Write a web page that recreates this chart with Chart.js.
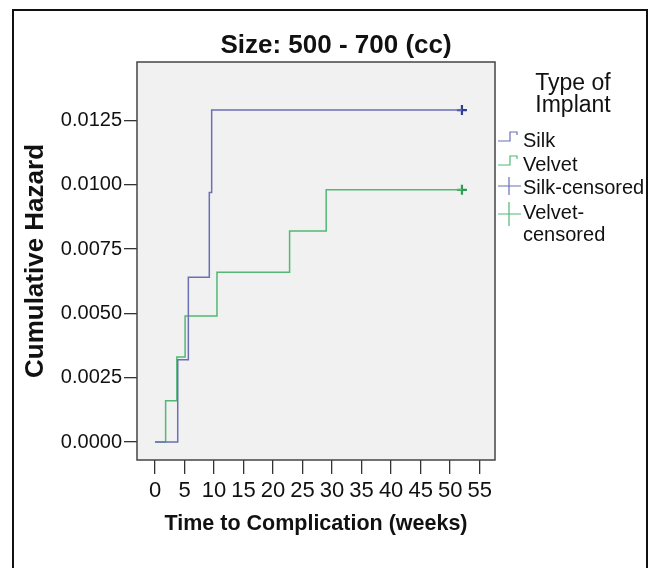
<!DOCTYPE html>
<html>
<head>
<meta charset="utf-8">
<script src="https://cdn.jsdelivr.net/npm/chart.js@4/dist/chart.umd.min.js"></script>
<style>
  html, body { margin: 0; padding: 0; background: #fff; }
  #wrap { width: 657px; height: 568px; position: relative; }
</style>
</head>
<body>
<div id="wrap"><canvas id="hazardChart"></canvas></div>
<script>
// step data (weeks, cumulative hazard)
var silkWeeks   = [0, 3.85, 5.65, 9.2, 9.6, 52];
var silkHazard  = [0, 0.0032, 0.0064, 0.0097, 0.0129, 0.0129];
var velvetWeeks  = [0, 1.8, 3.7, 5.1, 10.5, 22.8, 29, 52];
var velvetHazard = [0, 0.0016, 0.0033, 0.0049, 0.0066, 0.0082, 0.0098, 0.0098];
var silkCensoredWeeks = [52];
var silkCensoredHazard = [0.0129];
var velvetCensoredWeeks = [52];
var velvetCensoredHazard = [0.0098];

var xTicks = [0, 5, 10, 15, 20, 25, 30, 35, 40, 45, 50, 55];
var yTicks = [0, 0.0025, 0.005, 0.0075, 0.01, 0.0125];
var legendTitle = ['Type of', 'Implant'];
var legendLabels = ['Silk', 'Velvet', 'Silk-censored', ['Velvet-', 'censored']];

var SILK = '#6a6fb6';
var VELVET = '#52b874';
var SILK_DARK = '#2f3d8f';
var VELVET_DARK = '#2f9a52';
var FONT = "'Liberation Sans', Arial, sans-serif";

function toPoints(xs, ys) {
  return xs.map(function(x, i) { return { x: x, y: ys[i] }; });
}

// grey plot background, plot border and the outer frame
var framePlugin = {
  id: 'frame',
  beforeDraw: function(chart) {
    var ctx = chart.ctx, a = chart.chartArea;
    ctx.save();
    ctx.fillStyle = '#f1f1f1';
    ctx.fillRect(a.left, a.top, a.right - a.left, a.bottom - a.top);
    ctx.restore();
  },
  afterDraw: function(chart) {
    var ctx = chart.ctx, a = chart.chartArea;
    ctx.save();
    ctx.strokeStyle = '#444';
    ctx.lineWidth = 1.5;
    ctx.strokeRect(a.left, a.top, a.right - a.left, a.bottom - a.top);
    ctx.strokeStyle = '#111';
    ctx.lineWidth = 2;
    ctx.strokeRect(13, 10, 634, 600);

    // main title
    ctx.fillStyle = '#111';
    ctx.font = 'bold 26px ' + FONT;
    ctx.textAlign = 'center';
    ctx.textBaseline = 'middle';
    ctx.fillText('Size: 500 - 700 (cc)', 336, 46);

    // legend
    ctx.font = '23px ' + FONT;
    ctx.fillText(legendTitle[0], 573, 84);
    ctx.fillText(legendTitle[1], 573, 106);

    ctx.font = '20px ' + FONT;
    ctx.textAlign = 'left';
    var rows = [141, 165, 188, 213];
    var colors = [SILK, VELVET, SILK, VELVET];
    legendLabels.forEach(function(lab, i) {
      var y = rows[i];
      ctx.strokeStyle = colors[i];
      ctx.lineWidth = 1.2;
      ctx.beginPath();
      if (i < 2) {
        ctx.moveTo(498, y);
        ctx.lineTo(510, y);
        ctx.lineTo(510, y - 9);
        ctx.lineTo(517, y - 9);
        ctx.lineTo(517, y - 6);
      } else {
        var cy = i === 2 ? y - 2 : y + 1;
        var half = i === 2 ? 9 : 12;
        ctx.moveTo(498, cy);
        ctx.lineTo(521, cy);
        ctx.moveTo(509, cy - half);
        ctx.lineTo(509, cy + half);
      }
      ctx.stroke();
      ctx.fillStyle = '#111';
      if (Array.isArray(lab)) {
        ctx.fillText(lab[0], 523, y);
        ctx.fillText(lab[1], 523, y + 22);
      } else {
        ctx.fillText(lab, 523, y);
      }
    });
    ctx.restore();
  }
};

var ctx = document.getElementById('hazardChart').getContext('2d');
var hazardChart = new Chart(ctx, {
  type: 'scatter',
  data: {
    datasets: [
      {
        label: 'Silk',
        data: toPoints(silkWeeks, silkHazard),
        showLine: true,
        stepped: 'before',
        borderColor: SILK,
        borderWidth: 1.5,
        pointRadius: 0
      },
      {
        label: 'Velvet',
        data: toPoints(velvetWeeks, velvetHazard),
        showLine: true,
        stepped: 'before',
        borderColor: VELVET,
        borderWidth: 1.5,
        pointRadius: 0
      },
      {
        label: 'Silk-censored',
        data: toPoints(silkCensoredWeeks, silkCensoredHazard),
        pointStyle: 'cross',
        pointRadius: 5,
        borderWidth: 2.2,
        borderColor: SILK_DARK
      },
      {
        label: 'Velvet-censored',
        data: toPoints(velvetCensoredWeeks, velvetCensoredHazard),
        pointStyle: 'cross',
        pointRadius: 5,
        borderWidth: 2.2,
        borderColor: VELVET_DARK
      }
    ]
  },
  options: {
    responsive: true,
    maintainAspectRatio: false,
    animation: false,
    layout: {
      padding: { top: 62, right: 162, left: 0, bottom: 0 }
    },
    scales: {
      x: {
        type: 'linear',
        min: -3.05,
        max: 57.6,
        afterBuildTicks: function(scale) {
          scale.ticks = xTicks.map(function(v) { return { value: v }; });
        },
        afterFit: function(scale) { scale.height = 108; },
        border: { display: false },
        grid: {
          drawOnChartArea: false,
          tickLength: 14,
          color: '#333',
          lineWidth: 1.3
        },
        ticks: {
          color: '#111',
          padding: 4,
          maxRotation: 0,
          autoSkip: false,
          font: { family: FONT, size: 22 }
        },
        title: {
          display: true,
          text: 'Time to Complication (weeks)',
          color: '#111',
          font: { family: FONT, size: 21.5, weight: 'bold' },
          padding: { top: 0, bottom: 31 }
        }
      },
      y: {
        min: -0.0007,
        max: 0.01477,
        afterBuildTicks: function(scale) {
          scale.ticks = yTicks.map(function(v) { return { value: v }; });
        },
        afterFit: function(scale) { scale.width = 137; },
        border: { display: false },
        grid: {
          drawOnChartArea: false,
          tickLength: 13,
          color: '#333',
          lineWidth: 1.3
        },
        ticks: {
          color: '#111',
          padding: 2,
          autoSkip: false,
          font: { family: FONT, size: 20 },
          callback: function(value) { return value.toFixed(4); }
        },
        title: {
          display: true,
          text: 'Cumulative Hazard',
          color: '#111',
          font: { family: FONT, size: 26, weight: 'bold' },
          padding: { top: 20, bottom: 0 }
        }
      }
    },
    plugins: {
      legend: { display: false },
      tooltip: { enabled: false }
    }
  },
  plugins: [framePlugin]
});
</script>
</body>
</html>
